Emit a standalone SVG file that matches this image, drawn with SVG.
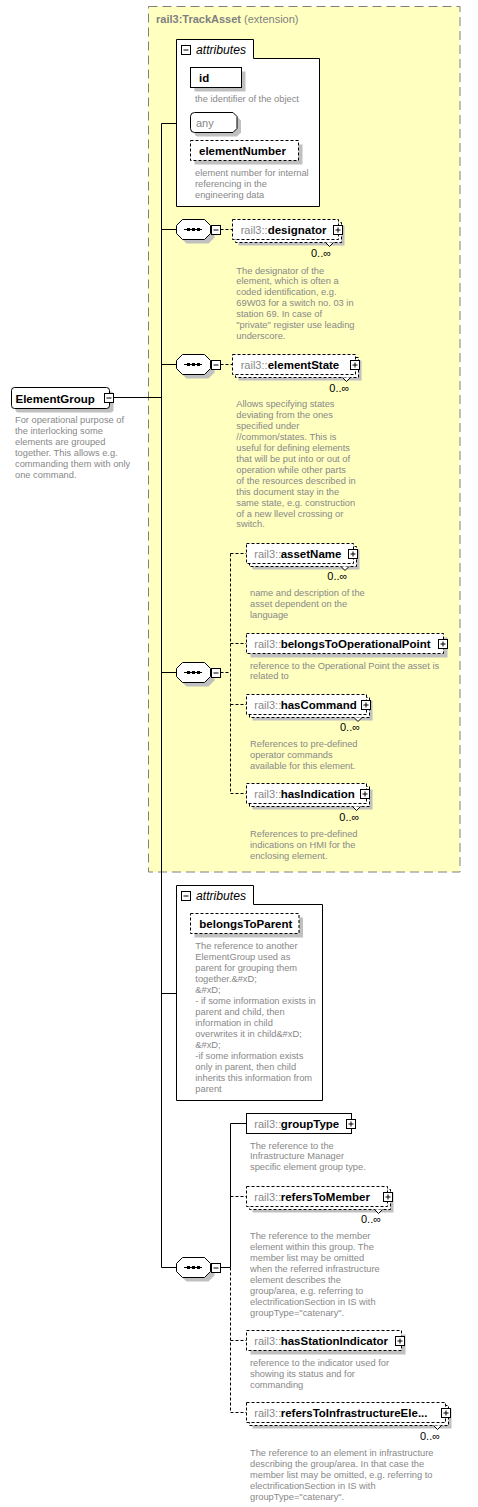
<svg xmlns="http://www.w3.org/2000/svg" xmlns:xlink="http://www.w3.org/1999/xlink" width="478" height="1507" viewBox="0 0 478 1507">
<style>
text{font-family:"Liberation Sans",Arial,sans-serif}
.desc{font-size:9.3px;fill:#888}
.pre{font-size:11px;fill:#888}
.name{font-size:11.5px;font-weight:bold;fill:#000}
.occ{font-size:11px;fill:#000}
.box{fill:#fff;stroke:#000;stroke-width:1}
.dbox{fill:#fff;stroke:#000;stroke-width:1;stroke-dasharray:3 2}
.sh{fill:#c0c0c0}
.conn{fill:none;stroke:#000;stroke-width:1}
.dconn{fill:none;stroke:#000;stroke-width:1;stroke-dasharray:3 2}
.ital{font-size:12px;font-style:italic;fill:#000}
</style>
<defs>
<g id="plus"><rect x="0.5" y="0.5" width="9" height="9" fill="#fff" stroke="#000"/><path d="M2.5 5H7.5M5 2.5V7.5" stroke="#000"/></g>
<g id="minus"><rect x="0.5" y="0.5" width="9" height="9" fill="#fff" stroke="#000"/><path d="M2.5 5H7.5" stroke="#000"/></g>
<g id="seq">
<polygon class="sh" points="186.5,-6 208.5,-6 214.5,0 214.5,8 208.5,14 186.5,14 180.5,8 180.5,0"/>
<polygon class="box" points="182.5,-10 204.5,-10 210.5,-4 210.5,4 204.5,10 182.5,10 176.5,4 176.5,-4"/>
<path d="M184 0H202" stroke="#000"/>
<rect x="187" y="-1.5" width="3" height="3" fill="#000"/>
<rect x="192" y="-1.5" width="3" height="3" fill="#000"/>
<rect x="197" y="-1.5" width="3" height="3" fill="#000"/>
</g>
</defs>

<rect id="trackasset" x="148.5" y="6.5" width="311.5" height="865.5" fill="#ffffc0" stroke="#808080" stroke-dasharray="9 5"/>
<text x="156" y="23" font-size="11" fill="#808080"><tspan font-weight="bold">rail3:TrackAsset</tspan> (extension)</text>

<g id="connectors">
<path class="conn" d="M113.5 397.5H161.5M161.5 123.5V1267.5M161.5 123.5H176.5M161.5 229.5H176.5M161.5 364.5H176.5M161.5 672.5H176.5M161.5 993.5H176.5M161.5 1267.5H176.5"/>
<path class="dconn" d="M220.5 229.5H232.5M220.5 364.5H232.5"/>
<path class="dconn" d="M220.5 672.5H230.5M230.5 553.5V793.5M230.5 553.5H246.5M230.5 643.5H246.5M230.5 704.5H246.5M230.5 793.5H246.5"/>
<path class="conn" d="M220.5 1267.5H230.5M230.5 1267.5V1123.5H246.5"/>
<path class="dconn" d="M230.5 1267.5V1412.5M230.5 1196.5H246.5M230.5 1340.5H246.5M230.5 1412.5H246.5"/>
</g>

<g id="ElementGroup">
<rect class="sh" x="15.5" y="391.5" width="98" height="21" rx="3"/>
<rect class="box" x="11.5" y="387.5" width="98" height="21" rx="3"/>
<text class="name" x="15.5" y="402.5">ElementGroup</text>
<use xlink:href="#minus" x="104" y="393"/>
<text class="desc" x="15" y="423"><tspan x="15">For operational purpose of</tspan><tspan x="15" dy="10.95">the interlocking some</tspan><tspan x="15" dy="10.95">elements are grouped</tspan><tspan x="15" dy="10.95">together. This allows e.g.</tspan><tspan x="15" dy="10.95">commanding them with only</tspan><tspan x="15" dy="10.95">one command.</tspan></text>
</g>

<g id="attributes1">
<path class="box" d="M176.5 39.5H253.5V58.5H319.5V206.5H176.5Z"/>
<use xlink:href="#minus" x="181" y="45"/>
<text class="ital" x="196" y="54" textLength="50" lengthAdjust="spacingAndGlyphs">attributes</text>
</g>
<g id="attr-id">
<rect class="sh" x="194.5" y="71.5" width="51" height="20"/>
<rect class="box" x="190.5" y="67.5" width="51" height="20"/>
<text class="name" x="199" y="82">id</text>
<text class="desc" x="195" y="101.5">the identifier of the object</text>
</g>
<g id="attr-any">
<path class="sh" d="M198.5 116.5H237L241 120.5V132.5L237 136.5H198.5A4 4 0 0 1 194.5 132.5V120.5A4 4 0 0 1 198.5 116.5Z"/>
<path d="M194.5 112.5H233L237 116.5V128.5L233 132.5H194.5A4 4 0 0 1 190.5 128.5V116.5A4 4 0 0 1 194.5 112.5Z" fill="#fff" stroke="#000"/>
<text class="pre" x="196" y="127">any</text>
</g>
<g id="attr-elementNumber">
<rect class="sh" x="194.5" y="144.5" width="108" height="20"/>
<rect class="dbox" x="190.5" y="140.5" width="108" height="20"/>
<text class="name" x="199" y="155">elementNumber</text>
<text class="desc" x="195" y="176"><tspan x="195">element number for internal</tspan><tspan x="195" dy="10.95">referencing in the</tspan><tspan x="195" dy="10.95">engineering data</tspan></text>
</g>

<g id="seq1"><use xlink:href="#seq" y="229.5"/><use xlink:href="#minus" x="211" y="225"/></g>
<g id="designator">
<rect class="sh" x="238.5" y="225.5" width="106" height="20"/>
<rect class="dbox" x="235.5" y="222.5" width="106" height="20"/>
<rect class="dbox" x="232.5" y="219.5" width="106" height="20"/>
<path d="M325.5 242.5L329.5 246.5L333.5 242.5" fill="#fff" stroke="#000"/>
<text class="pre" x="240.7" y="233.5">rail3::</text>
<text class="name" x="267.7" y="233.5">designator</text>
<use xlink:href="#plus" x="333" y="225"/>
<text class="occ" x="311" y="256.5">0..∞</text>
<text class="desc" x="236.3" y="273.5"><tspan x="236.3">The designator of the</tspan><tspan x="236.3" dy="10.95">element, which is often a</tspan><tspan x="236.3" dy="10.95">coded identification, e.g.</tspan><tspan x="236.3" dy="10.95">69W03 for a switch no. 03 in</tspan><tspan x="236.3" dy="10.95">station 69. In case of</tspan><tspan x="236.3" dy="10.95">"private" register use leading</tspan><tspan x="236.3" dy="10.95">underscore.</tspan></text>
</g>

<g id="seq2"><use xlink:href="#seq" y="364.5"/><use xlink:href="#minus" x="211" y="360"/></g>
<g id="elementState">
<rect class="sh" x="238.5" y="360.5" width="123" height="20"/>
<rect class="dbox" x="235.5" y="357.5" width="123" height="20"/>
<rect class="dbox" x="232.5" y="354.5" width="123" height="20"/>
<path d="M342.5 377.5L346.5 381.5L350.5 377.5" fill="#fff" stroke="#000"/>
<text class="pre" x="240.7" y="368.5">rail3::</text>
<text class="name" x="267.7" y="368.5">elementState</text>
<use xlink:href="#plus" x="350" y="360"/>
<text class="occ" x="329.3" y="391.5">0..∞</text>
<text class="desc" x="236.3" y="407"><tspan x="236.3">Allows specifying states</tspan><tspan x="236.3" dy="10.95">deviating from the ones</tspan><tspan x="236.3" dy="10.95">specified under</tspan><tspan x="236.3" dy="10.95">//common/states. This is</tspan><tspan x="236.3" dy="10.95">useful for defining elements</tspan><tspan x="236.3" dy="10.95">that will be put into or out of</tspan><tspan x="236.3" dy="10.95">operation while other parts</tspan><tspan x="236.3" dy="10.95">of the resources described in</tspan><tspan x="236.3" dy="10.95">this document stay in the</tspan><tspan x="236.3" dy="10.95">same state, e.g. construction</tspan><tspan x="236.3" dy="10.95">of a new llevel crossing or</tspan><tspan x="236.3" dy="10.95">switch.</tspan></text>
</g>

<g id="seq3"><use xlink:href="#seq" y="672.5"/><use xlink:href="#minus" x="211" y="668"/></g>
<g id="assetName">
<rect class="sh" x="252.5" y="549.5" width="107" height="20"/>
<rect class="dbox" x="249.5" y="546.5" width="107" height="20"/>
<rect class="dbox" x="246.5" y="543.5" width="107" height="20"/>
<path d="M341 566.5L345 570.5L349 566.5" fill="#fff" stroke="#000"/>
<text class="pre" x="254.3" y="557.5">rail3::</text>
<text class="name" x="280.7" y="557.5">assetName</text>
<use xlink:href="#plus" x="348" y="549"/>
<text class="occ" x="327.3" y="580">0..∞</text>
<text class="desc" x="250" y="596"><tspan x="250">name and description of the</tspan><tspan x="250" dy="10.95">asset dependent on the</tspan><tspan x="250" dy="10.95">language</tspan></text>
</g>
<g id="belongsToOperationalPoint">
<rect class="sh" x="250.5" y="637.5" width="197" height="20"/>
<rect class="dbox" x="246.5" y="633.5" width="197" height="20"/>
<text class="pre" x="254.3" y="647.5">rail3::</text>
<text class="name" x="280.7" y="647.5">belongsToOperationalPoint</text>
<use xlink:href="#plus" x="438" y="639"/>
<text class="desc" x="250" y="668.5"><tspan x="250">reference to the Operational Point the asset is</tspan><tspan x="250" dy="10.95">related to</tspan></text>
</g>
<g id="hasCommand">
<rect class="sh" x="252.5" y="700.5" width="120" height="20"/>
<rect class="dbox" x="249.5" y="697.5" width="120" height="20"/>
<rect class="dbox" x="246.5" y="694.5" width="120" height="20"/>
<path d="M354 717.5L358 721.5L362 717.5" fill="#fff" stroke="#000"/>
<text class="pre" x="254.3" y="708.5">rail3::</text>
<text class="name" x="280.7" y="708.5">hasCommand</text>
<use xlink:href="#plus" x="361" y="700"/>
<text class="occ" x="340" y="731">0..∞</text>
<text class="desc" x="250" y="747"><tspan x="250">References to pre-defined</tspan><tspan x="250" dy="10.95">operator commands</tspan><tspan x="250" dy="10.95">available for this element.</tspan></text>
</g>
<g id="hasIndication">
<rect class="sh" x="252.5" y="789.5" width="120" height="20"/>
<rect class="dbox" x="249.5" y="786.5" width="120" height="20"/>
<rect class="dbox" x="246.5" y="783.5" width="120" height="20"/>
<path d="M352.5 806.5L356.5 810.5L360.5 806.5" fill="#fff" stroke="#000"/>
<text class="pre" x="254.3" y="797.5">rail3::</text>
<text class="name" x="280.7" y="797.5">hasIndication</text>
<use xlink:href="#plus" x="360" y="789"/>
<text class="occ" x="339.3" y="821">0..∞</text>
<text class="desc" x="250" y="837"><tspan x="250">References to pre-defined</tspan><tspan x="250" dy="10.95">indications on HMI for the</tspan><tspan x="250" dy="10.95">enclosing element.</tspan></text>
</g>

<g id="attributes2">
<path class="box" d="M176.5 885.5H253.5V904.5H322.5V1100.5H176.5Z"/>
<use xlink:href="#minus" x="181" y="891"/>
<text class="ital" x="196" y="899.5" textLength="50" lengthAdjust="spacingAndGlyphs">attributes</text>
</g>
<g id="attr-belongsToParent">
<rect class="sh" x="194.5" y="917.5" width="108.5" height="20"/>
<rect class="dbox" x="190.5" y="913.5" width="108.5" height="20"/>
<text class="name" x="199.3" y="927.5">belongsToParent</text>
<text class="desc" x="195.3" y="949"><tspan x="195.3">The reference to another</tspan><tspan x="195.3" dy="11">ElementGroup used as</tspan><tspan x="195.3" dy="11">parent for grouping them</tspan><tspan x="195.3" dy="11">together.&amp;#xD;</tspan><tspan x="195.3" dy="11">&amp;#xD;</tspan><tspan x="195.3" dy="11">- if some information exists in</tspan><tspan x="195.3" dy="11">parent and child, then</tspan><tspan x="195.3" dy="11">information in child</tspan><tspan x="195.3" dy="11">overwrites it in child&amp;#xD;</tspan><tspan x="195.3" dy="11">&amp;#xD;</tspan><tspan x="195.3" dy="11">-if some information exists</tspan><tspan x="195.3" dy="11">only in parent, then child</tspan><tspan x="195.3" dy="11">inherits this information from</tspan><tspan x="195.3" dy="11">parent</tspan></text>
</g>

<g id="seq4"><use xlink:href="#seq" y="1267.5"/><use xlink:href="#minus" x="211" y="1263"/></g>
<g id="groupType">
<rect class="box" x="246.5" y="1113.5" width="105" height="20"/>
<text class="pre" x="254.3" y="1127.5">rail3::</text>
<text class="name" x="280.7" y="1127.5">groupType</text>
<use xlink:href="#plus" x="346" y="1119"/>
<text class="desc" x="250" y="1148.5"><tspan x="250">The reference to the</tspan><tspan x="250" dy="10.95">Infrastructure Manager</tspan><tspan x="250" dy="10.95">specific element group type.</tspan></text>
</g>
<g id="refersToMember">
<rect class="sh" x="252.5" y="1192.5" width="141" height="20"/>
<rect class="dbox" x="249.5" y="1189.5" width="141" height="20"/>
<rect class="dbox" x="246.5" y="1186.5" width="141" height="20"/>
<path d="M374.5 1209.5L378.5 1213.5L382.5 1209.5" fill="#fff" stroke="#000"/>
<text class="pre" x="254.3" y="1200.5">rail3::</text>
<text class="name" x="280.7" y="1200.5">refersToMember</text>
<use xlink:href="#plus" x="383" y="1192"/>
<text class="occ" x="361" y="1223.3">0..∞</text>
<text class="desc" x="250" y="1239"><tspan x="250">The reference to the member</tspan><tspan x="250" dy="10.95">element within this group. The</tspan><tspan x="250" dy="10.95">member list may be omitted</tspan><tspan x="250" dy="10.95">when the referred infrastructure</tspan><tspan x="250" dy="10.95">element describes the</tspan><tspan x="250" dy="10.95">group/area, e.g. referring to</tspan><tspan x="250" dy="10.95">electrificationSection in IS with</tspan><tspan x="250" dy="10.95">groupType="catenary".</tspan></text>
</g>
<g id="hasStationIndicator">
<rect class="sh" x="250.5" y="1334.5" width="155" height="20"/>
<rect class="dbox" x="246.5" y="1330.5" width="155" height="20"/>
<text class="pre" x="254.3" y="1344.5">rail3::</text>
<text class="name" x="280.7" y="1344.5">hasStationIndicator</text>
<use xlink:href="#plus" x="395" y="1336"/>
<text class="desc" x="250" y="1366"><tspan x="250">reference to the indicator used for</tspan><tspan x="250" dy="10.95">showing its status and for</tspan><tspan x="250" dy="10.95">commanding</tspan></text>
</g>
<g id="refersToInfrastructureElement">
<rect class="sh" x="252.5" y="1408.5" width="199" height="20"/>
<rect class="dbox" x="249.5" y="1405.5" width="199" height="20"/>
<rect class="dbox" x="246.5" y="1402.5" width="199" height="20"/>
<path d="M433.5 1425.5L437.5 1429.5L441.5 1425.5" fill="#fff" stroke="#000"/>
<text class="pre" x="254.3" y="1416.5">rail3::</text>
<text class="name" x="280.7" y="1416.5">refersToInfrastructureEle...</text>
<use xlink:href="#plus" x="441" y="1408"/>
<text class="occ" x="420" y="1440">0..∞</text>
<text class="desc" x="250" y="1456"><tspan x="250">The reference to an element in infrastructure</tspan><tspan x="250" dy="10.95">describing the group/area. In that case the</tspan><tspan x="250" dy="10.95">member list may be omitted, e.g. referring to</tspan><tspan x="250" dy="10.95">electrificationSection in IS with</tspan><tspan x="250" dy="10.95">groupType="catenary".</tspan></text>
</g>
</svg>
